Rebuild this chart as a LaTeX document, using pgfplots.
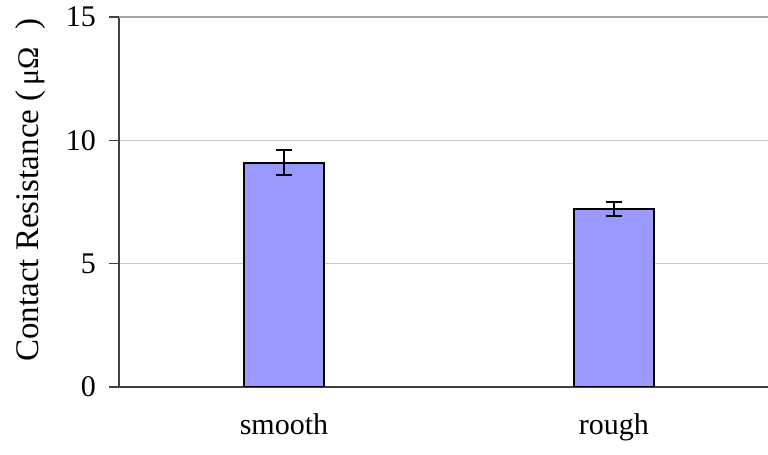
\documentclass[border=0pt]{standalone}
\usepackage{fontspec}
\setmainfont{Liberation Serif}
\usepackage{pgfplots}
\pgfplotsset{compat=1.18}
\definecolor{barblue}{HTML}{9999FF}
\definecolor{axisgray}{HTML}{404040}
\definecolor{gridgray}{HTML}{C8C8C8}
\begin{document}
\begin{tikzpicture}
\begin{axis}[
  at={(0,0)}, anchor=south west,
  scale only axis, width=324.5pt, height=185pt,
  xmin=-0.5, xmax=1.467, ymin=0, ymax=15,
  axis x line*=bottom, axis y line*=left,
  axis line style={axisgray, line width=0.6pt},
  ytick={0,5,10},
  extra y ticks={15},
  extra y tick style={grid style={gray!70, line width=1.1pt}},
  ymajorgrids,
  grid style={gridgray, line width=0.5pt},
  xtick={0,1},
  xticklabels={smooth,rough},
  extra x ticks={-0.5,0.5},
  extra x tick labels={},
  extra x tick style={major tick length=5pt, tick style={axisgray, line width=0.6pt}},
  tick align=outside,
  major tick length=5pt,
  tick style={axisgray, line width=0.6pt},
  x tick style={draw=none},
  tick label style={font=\fontsize{15}{15}\selectfont},
  y tick label style={xshift=-3pt},
  x tick label style={yshift=-5pt},
  /pgf/number format/assume math mode=true,
  ylabel={Contact Resistance ({\fontsize{15}{15}\selectfont\,μΩ}\; )},
  ylabel style={font=\fontsize{16.5}{16.5}\selectfont, at={(axis description cs:-0.137,0.532)}, anchor=center},
]
\addplot[ybar, bar width=0.242, fill=barblue, draw=black, line width=1pt,
  error bars/.cd, y dir=both, y explicit,
  error bar style={line width=1pt, black},
  error mark options={rotate=90, mark size=4pt, line width=1pt, black}]
  coordinates {(0,9.09) +- (0,0.5) (1,7.20) +- (0,0.28)};
\end{axis}
\pgfresetboundingbox
\useasboundingbox (-59.5pt,-34pt) rectangle (324.5pt,193.5pt);
\end{tikzpicture}
\end{document}
